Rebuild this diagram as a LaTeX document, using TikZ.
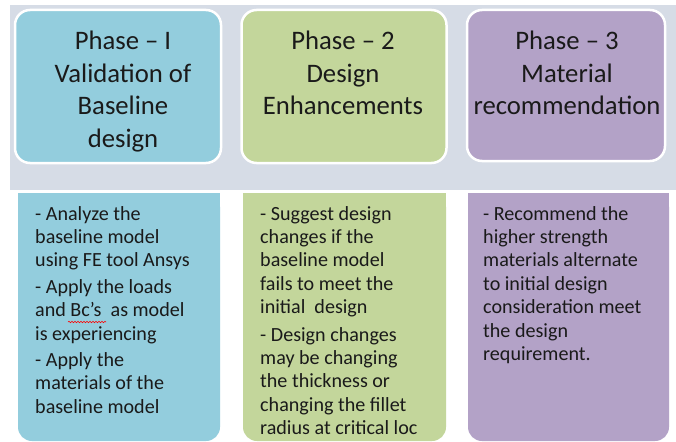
\documentclass[tikz,border=0pt]{standalone}
\usepackage{fontspec}
\setmainfont{Carlito}
\usetikzlibrary{decorations.pathmorphing}
\definecolor{bgband}{HTML}{D6DCE6}
\definecolor{cblue}{HTML}{93CDDD}
\definecolor{cgreen}{HTML}{C3D69B}
\definecolor{cpurple}{HTML}{B3A2C7}
\definecolor{ink}{HTML}{1A1A1A}
\begin{document}
\begin{tikzpicture}[x=1pt,y=-1pt,
  topbox/.style={draw=white, line width=2.5pt, rounded corners=15pt, inner sep=0pt},
  titletext/.style={font=\fontsize{26.7}{32.5}\selectfont, text=ink, align=center, anchor=north, inner sep=0pt},
  bodytext/.style={font=\fontsize{20.1}{23.4}\selectfont, text=ink, align=left, anchor=north west, inner sep=0pt},
  squiggle/.style={draw=red, line width=0.6pt, decorate, decoration={snake, amplitude=0.7pt, segment length=3pt}}]
\useasboundingbox (0,0) rectangle (676,441);
\fill[white] (0,0) rectangle (676,441);
\fill[bgband] (10,5) rectangle (676,190);
% top phase boxes
\node[topbox, fill=cblue, minimum width=206pt, minimum height=153pt] (p1) at (118,86.5) {};
\node[topbox, fill=cgreen, minimum width=205pt, minimum height=153pt] (p2) at (344,86.5) {};
\node[topbox, fill=cpurple, minimum width=198pt, minimum height=151pt] (p3) at (566,85.5) {};
% lower boxes
\fill[cblue, rounded corners=14pt] (18,193) rectangle (220,441);
\fill[cblue] (18,193) rectangle (220,300);
\fill[cgreen, rounded corners=14pt] (243,193) rectangle (446,441);
\fill[cgreen] (243,193) rectangle (446,300);
\fill[cpurple, rounded corners=14pt] (468,193) rectangle (669,441);
\fill[cpurple] (468,193) rectangle (669,300);
% titles
\node[titletext] (t1) at (123,31) {Phase – I\\Validation of\\Baseline\\design};
\node[titletext] (t2) at (343,31) {Phase – 2\\Design\\Enhancements};
\node[titletext] (t3) at (567,31) {Phase – 3\\Material\\recommendation};
% body texts
\node[bodytext] (d1) at (35,206) {- Analyze the\\baseline model\\using FE tool Ansys\\[3pt]- Apply the loads\\and Bc’s~ as model\\is experiencing\\[3pt]- Apply the\\materials of the\\baseline model};
\node[bodytext] (d2) at (260,206) {- Suggest design\\changes if the\\baseline model\\fails to meet the\\initial~ design\\[4pt]- Design changes\\may be changing\\the thickness or\\changing the fillet\\radius at critical loc};
\node[bodytext] (d3) at (483,206) {- Recommend the\\higher strength\\materials alternate\\to initial design\\consideration meet\\the design\\requirement.};
% spell-check mark under Bc's
\coordinate (sq1) at (68,322);
\coordinate (sq2) at (106,322);
\draw[squiggle] (sq1) -- (sq2);
\end{tikzpicture}
\end{document}
